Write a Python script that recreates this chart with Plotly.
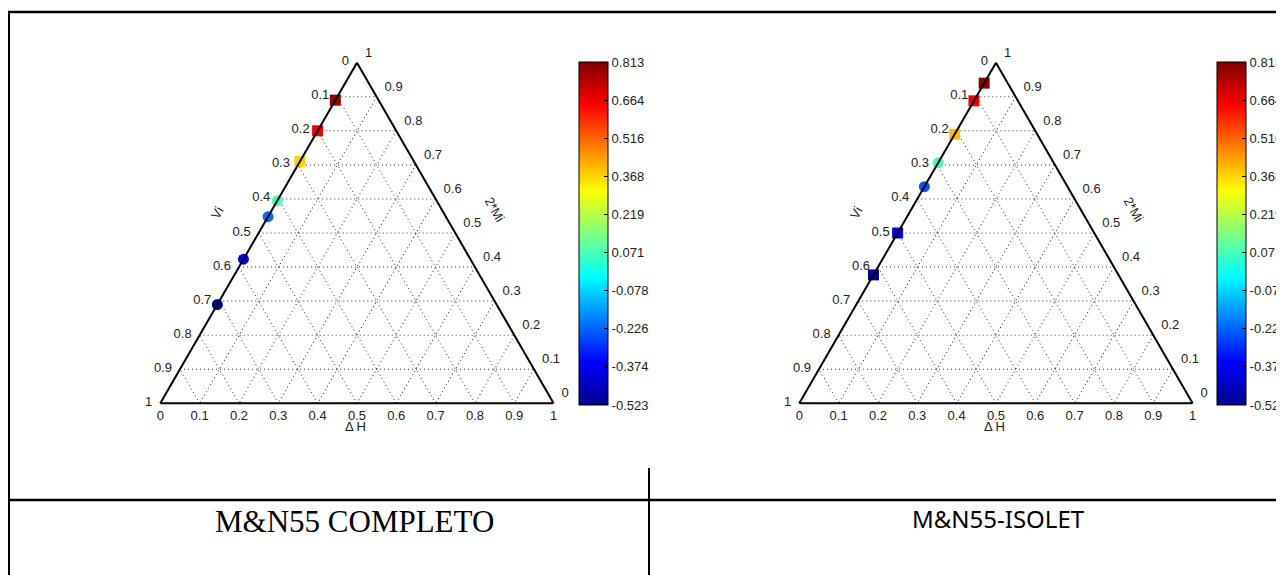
import plotly.graph_objects as go

W, H = 1284, 575
OFF = 8  # page body margin of the html page

# ---- data ----
left_vi = [0.11, 0.20, 0.29, 0.405, 0.452, 0.577, 0.71]
left_val = [0.78, 0.67, 0.37, 0.07, -0.21, -0.38, -0.52]
right_vi = [0.06, 0.112, 0.21, 0.294, 0.364, 0.50, 0.623]
right_val = [0.80, 0.67, 0.40, 0.06, -0.25, -0.42, -0.52]
left_symbols = ["square", "square", "square", "circle", "circle", "circle", "circle"]
right_symbols = ["square", "square", "square", "circle", "circle", "square", "square"]

cbar_ticks = [-0.523, -0.374, -0.226, -0.078, 0.071, 0.219, 0.368, 0.516, 0.664, 0.813]
cmin, cmax = -0.523, 0.813
axis_ticks = [0, 0.1, 0.2, 0.3, 0.4, 0.5, 0.6, 0.7, 0.8, 0.9, 1.0]
titles = ["M&N55 COMPLETO", "M&N55-ISOLET"]

jet = [[0, "rgb(0,0,143)"], [0.125, "rgb(0,0,255)"], [0.375, "rgb(0,255,255)"],
       [0.625, "rgb(255,255,0)"], [0.875, "rgb(255,0,0)"], [1, "rgb(128,0,0)"]]

def px_x(v):
    return (v - OFF) / W

def px_y(v):
    return 1 - (v - OFF) / H

def fmt(v):
    s = ("%.1f" % v)
    if s.endswith(".0"):
        s = s[:-2]
    return s

rev_text = [fmt(1 - t) for t in axis_ticks]

fig = go.Figure()

tick_font = dict(family="Liberation Sans, Arial, sans-serif", size=13, color="#222")

def axis_cfg(ticklen=0):
    d = dict(tickvals=axis_ticks, ticktext=rev_text,
             linecolor="black", linewidth=2, showline=True,
             gridcolor="#333", griddash="1px,3px", gridwidth=1,
             tickfont=tick_font, min=0, title=dict(text=""))
    if ticklen:
        d.update(ticks="outside", ticklen=ticklen, tickcolor="rgba(0,0,0,0)")
    else:
        d.update(ticks="")
    return d

panels = [
    dict(vi=left_vi, val=left_val, sym=left_symbols, dx=0),
    dict(vi=right_vi, val=right_val, sym=right_symbols, dx=640),
]

for i, p in enumerate(panels):
    name = "ternary" if i == 0 else "ternary2"
    dx = p["dx"]
    cb_x0 = 580 if i == 0 else 1219
    fig.add_trace(go.Scatterternary(
        a=[1 - v for v in p["vi"]], b=list(p["vi"]), c=[0] * len(p["vi"]),
        mode="markers", subplot=name, cliponaxis=False, showlegend=False,
        marker=dict(size=11, symbol=p["sym"], color=p["val"], colorscale=jet,
                    cmin=cmin, cmax=cmax, line=dict(width=0),
                    colorbar=dict(x=px_x(cb_x0), xanchor="left", xpad=0, ypad=0,
                                  y=px_y(233.5), yanchor="middle",
                                  len=343 / H, lenmode="fraction", thickness=29,
                                  outlinecolor="black", outlinewidth=1,
                                  tickvals=cbar_ticks,
                                  ticktext=["%.3f" % t for t in cbar_ticks],
                                  ticks="inside", ticklen=4, tickcolor="black",
                                  tickfont=tick_font)),
    ))
    dom = dict(x=[px_x(160 + dx), px_x(555 + dx)], y=[px_y(403.3), px_y(62.7)])
    fig.layout[name] = dict(domain=dom, bgcolor="white", sum=1,
                            aaxis=axis_cfg(5), baxis=axis_cfg(), caxis=axis_cfg(10))

    common = dict(xref="paper", yref="paper", showarrow=False, font=tick_font,
                  xanchor="center", yanchor="middle")
    fig.add_annotation(x=px_x(356 + dx), y=px_y(426), text="Δ H", **common)
    fig.add_annotation(x=px_x(218 + dx), y=px_y(213), text="Vi", textangle=-60, **common)
    fig.add_annotation(x=px_x(495 + dx), y=px_y(210), text="2*Mi", textangle=60, **common)

fig.add_annotation(x=px_x(355), y=px_y(521), xref="paper", yref="paper",
                   xanchor="center", yanchor="middle",
                   text=titles[0], showarrow=False,
                   font=dict(family="Liberation Serif, Times New Roman, serif", size=31, color="black"))
fig.add_annotation(x=px_x(1000), y=px_y(518), xref="paper", yref="paper",
                   xanchor="center", yanchor="middle",
                   text=titles[1], showarrow=False,
                   font=dict(family="Noto Sans, sans-serif", size=24, color="black"))

line = dict(color="black", width=2)
fig.add_shape(type="line", xref="paper", yref="paper", x0=px_x(8), x1=1, y0=px_y(12), y1=px_y(12), line=dict(color="black", width=2.5))
fig.add_shape(type="line", xref="paper", yref="paper", x0=px_x(9), x1=px_x(9), y0=px_y(11), y1=0, line=line)
fig.add_shape(type="line", xref="paper", yref="paper", x0=px_x(9), x1=1, y0=px_y(500), y1=px_y(500), line=dict(color="black", width=2.5))
fig.add_shape(type="line", xref="paper", yref="paper", x0=px_x(650), x1=px_x(650), y0=px_y(468), y1=0, line=line)

fig.update_layout(width=W, height=H, margin=dict(l=0, r=0, t=0, b=0),
                  paper_bgcolor="white", plot_bgcolor="white")

fig.write_html("out.html")
